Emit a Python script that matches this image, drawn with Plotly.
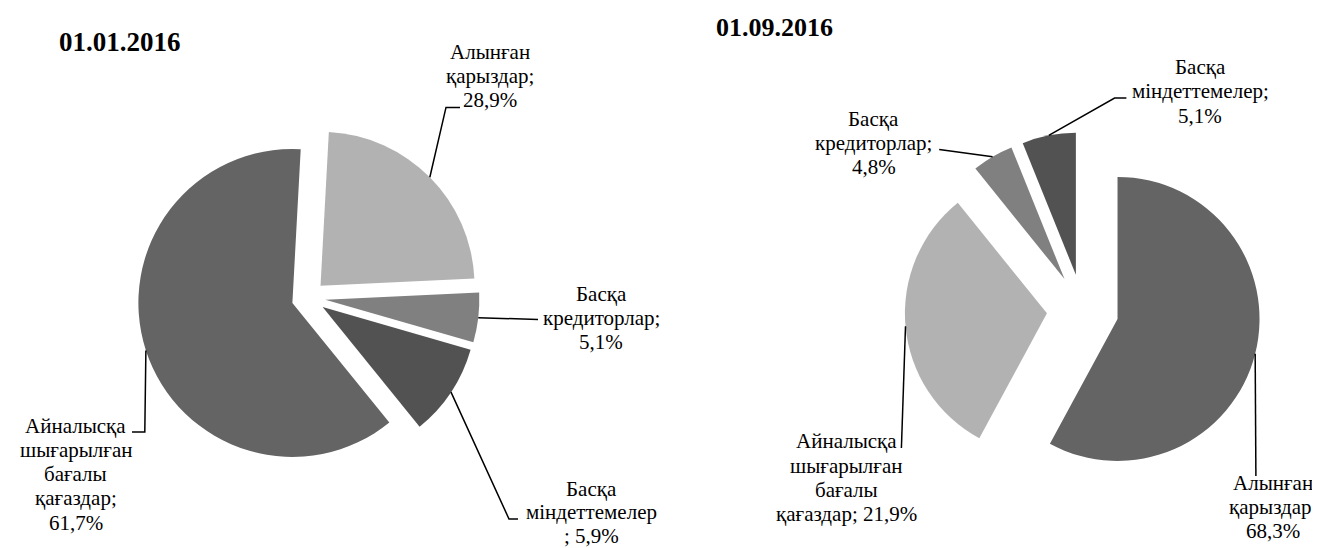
import math
import plotly.graph_objects as go

W, H = 1320, 548

# ---------------- data ----------------
titles = ["01.01.2016", "01.09.2016"]

categories_jan = ["Алынған қарыздар", "Басқа кредиторлар",
                  "Басқа міндеттемелер", "Айналысқа шығарылған бағалы қағаздар"]
slice_share_jan = [23.4, 5.2, 9.7, 61.7]          # share of the circle as drawn
label_text_jan = ["Алынған\nқарыздар;\n28,9%",
                  "Басқа\nкредиторлар;\n5,1%",
                  "Басқа\nміндеттемелер\n; 5,9%",
                  "Айналысқа\nшығарылған\nбағалы\nқағаздар;\n61,7%"]

categories_sep = ["Алынған қарыздар", "Айналысқа шығарылған бағалы қағаздар",
                  "Басқа кредиторлар", "Басқа міндеттемелер"]
slice_share_sep = [57.9, 31.3, 4.7, 6.1]
label_text_sep = ["Алынған\nқарыздар;\n68,3%",
                  "Айналысқа\nшығарылған\nбағалы\nқағаздар; 21,9%",
                  "Басқа\nкредиторлар;\n4,8%",
                  "Басқа\nміндеттемелер;\n5,1%"]

# ---------------- styles / layout ----------------
FONT = "Liberation Serif"
LABEL_SIZE = 21
PITCH = 24.2
TITLE_SIZE = 26

charts = [
    dict(title=titles[0], cats=categories_jan, vals=slice_share_jan, texts=label_text_jan,
         cx=300.5, cy=289.7, r=154, pull=0.11, rotation=3.1,
         colors=["#b2b2b2", "#808080", "#525252", "#646464"],
         title_pos=(112.5, 43), title_size=27,
         label_pos=[(481.7, 51), (593, 293), (583, 488), (67.5, 425)],
         pitch=[PITCH, PITCH, 23.4, PITCH],
         leader=[[(438, 99.4), (452, 99.4)],
                 [(530, 311.5)],
                 [(501, 511), (510, 511)],
                 [(136.8, 424), (124, 424)]]),
    dict(title=titles[1], cats=categories_sep, vals=slice_share_sep, texts=label_text_sep,
         cx=1074.7, cy=302.1, r=142, pull=0.253, rotation=0,
         colors=["#646464", "#b2b2b2", "#808080", "#525252"],
         title_pos=(766, 28), title_size=26,
         label_pos=[(1265, 481.7), (838, 440.5), (866, 118), (1192, 66.3)],
         pitch=[PITCH] * 4,
         leader=[[(1247.9, 468)],
                 [(893.4, 440)],
                 [(931.2, 141.4)],
                 [(1106.6, 90), (1118.4, 90)]]),
]


def px(x):
    return x / W


def py(y):
    return 1 - y / H


fig = go.Figure()
annotations = []
shapes = []

for ch in charts:
    R = ch["r"] * (1 + ch["pull"])
    fig.add_trace(go.Pie(
        labels=ch["cats"], values=ch["vals"], sort=False, direction="clockwise",
        rotation=ch["rotation"], pull=[ch["pull"]] * len(ch["vals"]),
        marker=dict(colors=ch["colors"], line=dict(width=0)),
        textinfo="none", hoverinfo="label+percent", showlegend=False,
        domain=dict(x=[px(ch["cx"] - R), px(ch["cx"] + R)],
                    y=[py(ch["cy"] + R), py(ch["cy"] - R)]),
    ))
    tx, tb = ch["title_pos"]
    ts = ch["title_size"]
    annotations.append(dict(text="<b>%s</b>" % ch["title"], x=px(tx), y=py(tb - 0.34 * ts),
                            xref="paper", yref="paper", xanchor="center", yanchor="middle",
                            showarrow=False, font=dict(family=FONT, size=ts, color="black")))
    total = sum(ch["vals"])
    cum = 0
    for i, v in enumerate(ch["vals"]):
        a0 = ch["rotation"] + 360 * cum / total
        a1 = a0 + 360 * v / total
        cum += v
        mid = math.radians((a0 + a1) / 2)
        rim = (ch["cx"] + R * math.sin(mid), ch["cy"] - R * math.cos(mid))
        pts = [rim] + ch["leader"][i]
        path = "M " + " L ".join("%.5f,%.5f" % (px(x), py(y)) for x, y in pts)
        shapes.append(dict(type="path", path=path, xref="paper", yref="paper",
                           line=dict(color="black", width=1.5)))
        lx, lb = ch["label_pos"][i]
        for j, line in enumerate(ch["texts"][i].split("\n")):
            base = lb + j * ch["pitch"][i]
            annotations.append(dict(text=line, x=px(lx), y=py(base - 0.34 * LABEL_SIZE),
                                    xref="paper", yref="paper", xanchor="center", yanchor="middle",
                                    showarrow=False,
                                    font=dict(family=FONT, size=LABEL_SIZE, color="black")))

fig.update_layout(width=W, height=H, margin=dict(l=0, r=0, t=0, b=0),
                  paper_bgcolor="white", plot_bgcolor="white",
                  font=dict(family=FONT),
                  annotations=annotations, shapes=shapes, showlegend=False)

fig.write_html("out.html")
